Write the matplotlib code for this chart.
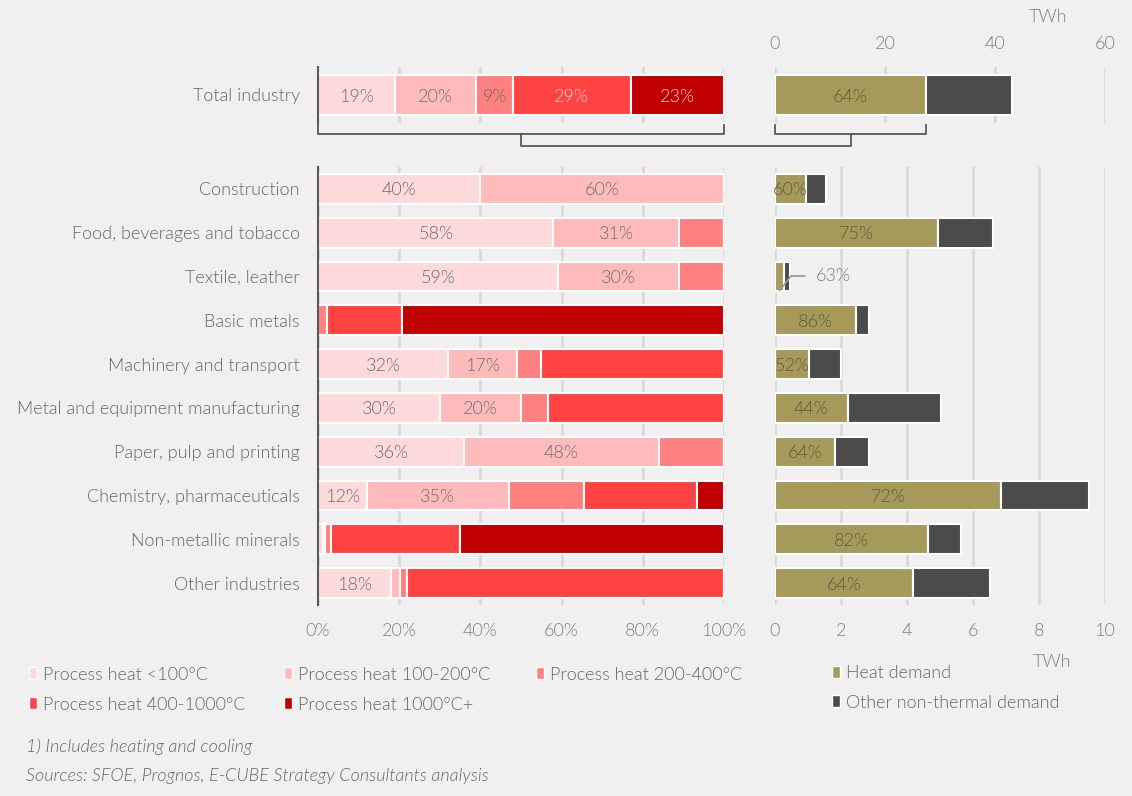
import matplotlib
matplotlib.use("Agg")
import matplotlib.pyplot as plt
from matplotlib.lines import Line2D
from matplotlib.patches import Rectangle
import numpy as np

plt.rcParams["font.family"] = ["Lato", "DejaVu Sans"]
plt.rcParams["font.weight"] = 300

# shares of process heat by temperature band (% of each sector's process heat)
bands = ["Process heat <100°C", "Process heat 100-200°C", "Process heat 200-400°C",
         "Process heat 400-1000°C", "Process heat 1000°C+"]
band_colors = ["#ffdada", "#ffbbbb", "#ff8080", "#ff4343", "#c00000"]

total_shares = [19, 20, 9, 29, 23]

sectors = ["Construction", "Food, beverages and tobacco", "Textile, leather", "Basic metals",
           "Machinery and transport", "Metal and equipment manufacturing",
           "Paper, pulp and printing", "Chemistry, pharmaceuticals",
           "Non-metallic minerals", "Other industries"]
lt100 = [40, 58, 59, 0, 32, 30, 36, 12, 1.2, 18]
b100_200 = [60, 31, 30, 0, 17, 20, 48, 35, 0.6, 2.3]
b200_400 = [0, 11, 11, 2.2, 6, 6.7, 16, 18.6, 1.5, 1.7]
b400_1000 = [0, 0, 0, 18.5, 45, 43.3, 0, 27.7, 31.7, 78]
b1000 = [0, 0, 0, 79.3, 0, 0, 0, 6.7, 65, 0]
# which segments carry a printed share
shown = [[1, 1, 0, 0, 0], [1, 1, 0, 0, 0], [1, 1, 0, 0, 0], [0, 0, 0, 0, 0],
         [1, 1, 0, 0, 0], [1, 1, 0, 0, 0], [1, 1, 0, 0, 0], [1, 1, 0, 0, 0],
         [0, 0, 0, 0, 0], [1, 0, 0, 0, 0]]

# energy demand (TWh) and the heat share of it
total_twh = 43.0
total_heat_share = 64
sector_twh = [1.55, 6.6, 0.45, 2.85, 1.99, 5.02, 2.85, 9.52, 5.64, 6.52]
heat_share = [60, 75, 63, 86, 52, 44, 64, 72, 82, 64]
heat_color = "#a69a5a"
other_color = "#4b4b4b"

W, H = 1132, 796
fig = plt.figure(figsize=(W / 100, H / 100), dpi=100)
fig.patch.set_facecolor("#f0f0f0")

def rect(x0, y0, x1, y1):
    return [x0 / W, 1 - y1 / H, (x1 - x0) / W, (y1 - y0) / H]

ax_tl = fig.add_axes(rect(318, 67, 724, 123))
ax_tr = fig.add_axes(rect(775, 67, 1105, 123))
ax_bl = fig.add_axes(rect(318, 167, 724, 605))
ax_br = fig.add_axes(rect(775, 167, 1105, 605))

grid_c = "#d9d9d9"
text_c = "#666666"
bar_txt = "#6e6e6e"
heat_txt = "#5f5a40"
tick_c = "#7f7f7f"
FS = 13

for ax in (ax_tl, ax_tr, ax_bl, ax_br):
    ax.set_facecolor("none")
    for s in ax.spines.values():
        s.set_visible(False)
    ax.xaxis.grid(True, color=grid_c, lw=2)
    ax.set_axisbelow(True)
    ax.tick_params(length=0, labelsize=FS, labelcolor=tick_c)

for ax in (ax_tl, ax_bl):
    ax.spines["left"].set_visible(True)
    ax.spines["left"].set_color("#595959")
    ax.spines["left"].set_linewidth(1.5)
    ax.set_xlim(0, 100)

ax_tl.set_xticks([20, 40, 60, 80, 100])
ax_tl.tick_params(labelbottom=False)
ax_bl.set_xticks(np.arange(0, 101, 20))
ax_bl.set_xticklabels([f"{v}%" for v in range(0, 101, 20)])
ax_bl.tick_params(axis="x", pad=13)

ax_tr.set_xlim(0, 60)
ax_tr.set_xticks([0, 20, 40, 60])
ax_tr.xaxis.tick_top()
ax_tr.tick_params(axis="x", pad=11, labelbottom=False, labeltop=True)
ax_tr.set_yticks([])
ax_br.set_xlim(0, 10)
ax_br.set_xticks(np.arange(0, 11, 2))
ax_br.tick_params(axis="x", pad=13)
ax_br.set_yticks([])

# top row: total industry
ax_tl.set_ylim(-0.5, 0.5)
ax_tr.set_ylim(-0.5, 0.5)
tb_h = 0.71
left = 0
for i, v in enumerate(total_shares):
    ax_tl.barh(0, v, left=left, height=tb_h, color=band_colors[i], edgecolor="white", lw=1.5)
    c = "#f7d4d4" if i >= 3 else bar_txt
    ax_tl.text(left + v / 2, 0, f"{v}%", ha="center", va="center_baseline", fontsize=FS,
               color=c)
    left += v
ax_tl.set_yticks([0])
ax_tl.set_yticklabels(["Total industry"], fontsize=FS, color=text_c)
ax_tl.tick_params(axis="y", pad=13)

total_heat = total_twh * total_heat_share / 100
ax_tr.barh(0, total_heat, height=tb_h, color=heat_color, edgecolor="white", lw=1.5)
ax_tr.barh(0, total_twh - total_heat, left=total_heat, height=tb_h, color=other_color,
           edgecolor="white", lw=1.5)
ax_tr.text(total_heat / 2, 0, f"{total_heat_share}%", ha="center", va="center_baseline",
           fontsize=FS, color=heat_txt)

# sector rows
rows = np.arange(len(sectors))
bh = 0.68
ax_bl.set_ylim(len(sectors) - 0.5, -0.5)
ax_br.set_ylim(len(sectors) - 0.5, -0.5)
seg = np.array([lt100, b100_200, b200_400, b400_1000, b1000])
lefts = np.zeros(len(sectors))
for i in range(5):
    ax_bl.barh(rows, seg[i], left=lefts, height=bh, color=band_colors[i], edgecolor="white", lw=1.5)
    for r in rows:
        if shown[r][i]:
            ax_bl.text(lefts[r] + seg[i][r] / 2, r, f"{seg[i][r]:.0f}%", ha="center",
                       va="center_baseline", fontsize=FS, color=bar_txt)
    lefts += seg[i]
ax_bl.set_yticks(rows)
ax_bl.set_yticklabels(sectors, fontsize=FS, color=text_c)
ax_bl.tick_params(axis="y", pad=13)

heat = np.array(sector_twh) * np.array(heat_share) / 100
other = np.array(sector_twh) - heat
ax_br.barh(rows, heat, height=bh, color=heat_color, edgecolor="white", lw=1.5)
ax_br.barh(rows, other, left=heat, height=bh, color=other_color, edgecolor="white", lw=1.5)
for r in rows:
    if sectors[r] == "Textile, leather":
        # bar too short for its label: put it to the right with a leader line
        ax_br.annotate(f"{heat_share[r]}%", xy=(heat[r] / 2, r + bh / 2 - 0.02),
                       xytext=(26, 11.5), textcoords="offset points", ha="left",
                       va="center_baseline", fontsize=FS, color=tick_c,
                       arrowprops=dict(arrowstyle="-", color="#9a9a9a", lw=1.3, shrinkA=6,
                                       shrinkB=0,
                                       connectionstyle="angle,angleA=0,angleB=52,rad=0"))
    else:
        ax_br.text(heat[r] / 2, r, f"{heat_share[r]}%", ha="center", va="center_baseline",
                   fontsize=FS, color=heat_txt)

# unit labels
fig.text(1048 / W, 1 - 17 / H, "TWh", ha="center", va="center", fontsize=FS, color=tick_c)
fig.text(1052 / W, 1 - 662 / H, "TWh", ha="center", va="center", fontsize=FS, color=tick_c)

# brackets linking the total row to the sector rows
to_fig = fig.transFigure.inverted()

def fx(ax, x):
    return to_fig.transform(ax.transData.transform((x, 0)))[0]

yb = 1 - 134 / H
ytop = 1 - 125 / H
ylow = 1 - 146 / H
y_ax = 1 - 123 / H
br_c = "#595959"
lx0, lx1 = fx(ax_tl, 0), fx(ax_tl, 100)
rx0, rx1 = fx(ax_tr, 0), fx(ax_tr, total_heat)
lmid, rmid = (lx0 + lx1) / 2, (rx0 + rx1) / 2
for xs, ys in [([lx0, lx0, lx1, lx1], [y_ax, yb, yb, ytop]),
               ([rx0, rx0, rx1, rx1], [ytop, yb, yb, ytop]),
               ([lmid, lmid, rmid, rmid], [yb, ylow, ylow, yb])]:
    fig.add_artist(Line2D(xs, ys, color=br_c, lw=1.3, transform=fig.transFigure))

# legend
leg = [(bands[0], band_colors[0], 28, 673), (bands[1], band_colors[1], 283, 673),
       (bands[2], band_colors[2], 535, 673), (bands[3], band_colors[3], 28, 703),
       (bands[4], band_colors[4], 283, 703), ("Heat demand", heat_color, 831, 672),
       ("Other non-thermal demand", other_color, 831, 701)]
for label, c, x, y in leg:
    fig.add_artist(Rectangle(((x + 1) / W, 1 - (y + 6) / H), 8 / W, 12 / H, facecolor=c,
                             edgecolor="white", lw=1, transform=fig.transFigure))
    fig.text((x + 15) / W, 1 - y / H, label, ha="left", va="center_baseline", fontsize=FS,
             color=text_c)

fig.text(26 / W, 1 - 745 / H, "1) Includes heating and cooling", ha="left",
         va="center_baseline", fontsize=FS, style="italic", color=text_c)
fig.text(26 / W, 1 - 774 / H, "Sources: SFOE, Prognos, E-CUBE Strategy Consultants analysis",
         ha="left", va="center_baseline", fontsize=FS, style="italic", color=text_c)

fig.savefig("out.png", dpi=100, facecolor=fig.get_facecolor())
